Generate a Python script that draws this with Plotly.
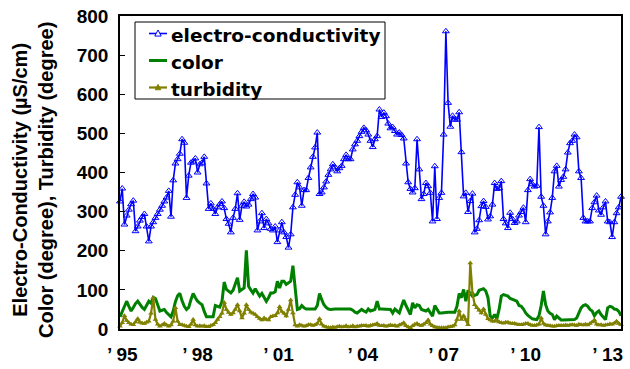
import plotly.graph_objects as go

# ---- data (monthly, from 1995) ----
ec = [326,359,267,290,305,319,328,250,262,277,286,294,262,224,262,273,284,294,305,315,326,336,353,287,380,423,434,448,485,476,335,392,425,428,436,400,421,425,440,372,307,321,
      307,294,311,319,326,309,281,269,247,284,307,347,279,315,325,313,318,332,345,336,252,275,296,258,281,270,256,252,262,222,252,273,247,235,208,242,311,343,375,362,315,355,355,386,413,440,464,502,
      345,349,362,377,394,408,421,413,403,411,417,434,445,434,434,459,472,481,493,504,514,508,497,481,465,485,493,561,542,553,544,525,513,516,506,497,502,496,487,423,375,358,349,360,485,408,332,345,
      373,365,348,275,416,281,335,348,497,761,578,517,545,535,535,554,452,339,348,299,327,346,247,256,278,314,327,312,280,288,318,373,358,360,378,281,270,258,297,281,271,275,290,299,310,
      273,355,383,370,364,366,516,338,315,242,275,298,335,403,417,364,381,389,408,451,475,481,497,490,403,386,284,275,275,275,309,324,341,303,292,311,326,275,273,235,273,296,311,338]

color = [31,45,60,71,58,46,55,65,71,62,55,50,60,71,66,81,78,60,46,48,50,42,35,31,46,70,85,91,72,58,
         50,55,75,91,80,71,66,62,45,31,31,31,31,60,58,56,70,120,101,96,92,99,115,131,97,100,105,201,109,100,
         92,103,95,84,91,80,71,80,92,92,95,122,105,122,122,114,118,122,162,109,50,52,60,54,51,51,51,51,51,60,
         91,75,62,55,51,50,51,51,51,51,51,51,51,51,51,48,43,41,45,50,46,43,51,46,48,50,71,51,51,51,
         51,50,50,41,51,46,41,58,74,60,48,37,67,54,62,60,50,48,46,50,42,33,60,50,41,41,42,43,43,43,
         43,43,58,91,80,101,71,99,91,84,86,88,99,101,103,97,80,33,28,37,26,50,84,88,86,84,78,75,74,71,
         60,58,51,41,35,31,26,25,24,34,60,97,62,46,40,37,24,33,28,23,23,23,23,23,24,24,28,40,54,60,
         62,58,50,46,34,42,46,37,30,24,54,58,56,51,50,45,34]

turbidity = [7,16,34,22,16,12,11,18,26,17,15,14,17,20,40,80,24,12,7,10,14,10,7,10,20,54,20,11,11,9,
             7,6,12,24,10,7,8,7,8,6,6,9,11,16,24,31,40,68,50,42,37,41,50,62,46,28,40,62,50,43,
             40,37,31,27,23,28,24,23,31,33,34,41,57,45,40,33,50,74,41,10,7,11,9,7,8,11,11,9,11,14,
             26,12,7,5,4,3,5,4,6,7,5,6,8,5,6,8,5,7,7,9,8,9,7,9,10,11,14,9,8,9,
             7,8,10,8,9,7,10,12,16,8,5,3,8,12,14,10,9,12,16,23,12,8,5,4,3,3,3,3,5,6,
             7,10,24,46,24,34,24,11,169,92,62,54,48,41,51,37,26,23,20,20,23,18,16,15,17,17,15,14,14,12,
             11,11,12,14,14,11,9,9,10,12,28,14,10,9,8,7,7,8,9,9,9,10,9,10,11,10,9,12,11,10,
             12,10,14,18,23,12,10,11,9,10,11,13,12,15,20,14,11]

series_names = ["electro-conductivity", "color", "turbidity"]
series_colors = ["#0000FF", "#008000", "#808000"]

tick_labels = ["’ 95", "’ 98", "’ 01", "’ 04", "’ 07", "’ 10", "’ 13"]
tick_pos = [1, 35, 71.5, 109.5, 146, 183, 220]

x = list(range(len(ec)))

FONT = "Liberation Sans"
LEGEND_FONT = "DejaVu Sans"

# figure geometry (pixels)
W, H = 630, 369
ML, MR, MT, MB = 120, 9, 16, 40
PW, PH = W - ML - MR, H - MT - MB


def px(xp):
    return (xp - ML) / PW


def py(yp):
    return (H - MB - yp) / PH


fig = go.Figure()
fig.add_trace(go.Scatter(
    x=x, y=ec, name=series_names[0], mode="lines+markers",
    line=dict(color=series_colors[0], width=1.6),
    marker=dict(symbol="triangle-up-open", size=6, color=series_colors[0], line=dict(width=1)),
    cliponaxis=False, showlegend=False))
fig.add_trace(go.Scatter(
    x=x, y=color, name=series_names[1], mode="lines",
    line=dict(color=series_colors[1], width=3), cliponaxis=False, showlegend=False))
fig.add_trace(go.Scatter(
    x=x, y=turbidity, name=series_names[2], mode="lines+markers",
    line=dict(color=series_colors[2], width=2.2),
    marker=dict(symbol="triangle-up", size=5, color=series_colors[2]),
    cliponaxis=False, showlegend=False))

# ---- hand-built legend (box, sample lines, markers, labels) ----
shapes = [dict(type="rect", xref="paper", yref="paper",
               x0=px(135), x1=px(385), y0=py(99), y1=py(22),
               line=dict(color="black", width=1), fillcolor="white", layer="above")]
annotations = []
row_y = [33.5, 60.5, 87.5]
line_w = [1.6, 3, 2.2]
for name, col, ry, lw, k in zip(series_names, series_colors, row_y, line_w, range(3)):
    shapes.append(dict(type="line", xref="paper", yref="paper",
                       x0=px(149), x1=px(167), y0=py(ry), y1=py(ry),
                       line=dict(color=col, width=lw), layer="above"))
    if k != 1:
        cx = 158
        s = 3.2 if k == 0 else 2.8
        path = (f"M {px(cx - s)},{py(ry + s * 0.8)} L {px(cx + s)},{py(ry + s * 0.8)} "
                f"L {px(cx)},{py(ry - s * 1.1)} Z")
        shapes.append(dict(type="path", xref="paper", yref="paper", path=path,
                           line=dict(color=col, width=1),
                           fillcolor="white" if k == 0 else col, layer="above"))
    annotations.append(dict(text=f"<b>{name}</b>", xref="paper", yref="paper",
                            x=px(169), y=py(ry + 1.5), xanchor="left", yanchor="middle",
                            showarrow=False,
                            font=dict(family=LEGEND_FONT, size=18.5, color="black")))

annotations.append(dict(
    text="<b>Electro-Conductivity (µS/cm)<br>Color (degree), Turbidity (degree)</b>",
    xref="paper", yref="paper", x=px(33), y=py(180),
    xanchor="center", yanchor="middle", textangle=-90, showarrow=False,
    font=dict(family=FONT, size=20, color="black")))

fig.update_layout(
    width=W, height=H,
    margin=dict(l=ML, r=MR, t=MT, b=MB),
    paper_bgcolor="white", plot_bgcolor="white",
    showlegend=False,
    xaxis=dict(
        range=[0, len(ec) - 1], tickmode="array", tickvals=tick_pos, ticktext=tick_labels,
        showgrid=False, zeroline=False, showline=True, linecolor="black", linewidth=1.5,
        mirror=True, ticks="", ticklabelstandoff=7, automargin=False,
        tickfont=dict(family=FONT, size=19, color="black", weight="bold"),
    ),
    yaxis=dict(
        range=[0, 800], dtick=100, tick0=0,
        showgrid=False, zeroline=False, showline=True, linecolor="black", linewidth=1.5,
        mirror=True, ticks="inside", ticklen=5, tickcolor="black", automargin=False,
        tickfont=dict(family=FONT, size=19, color="black", weight="bold"),
        ticklabelstandoff=6,
    ),
    shapes=shapes,
    annotations=annotations,
)

fig.write_html("out.html")
